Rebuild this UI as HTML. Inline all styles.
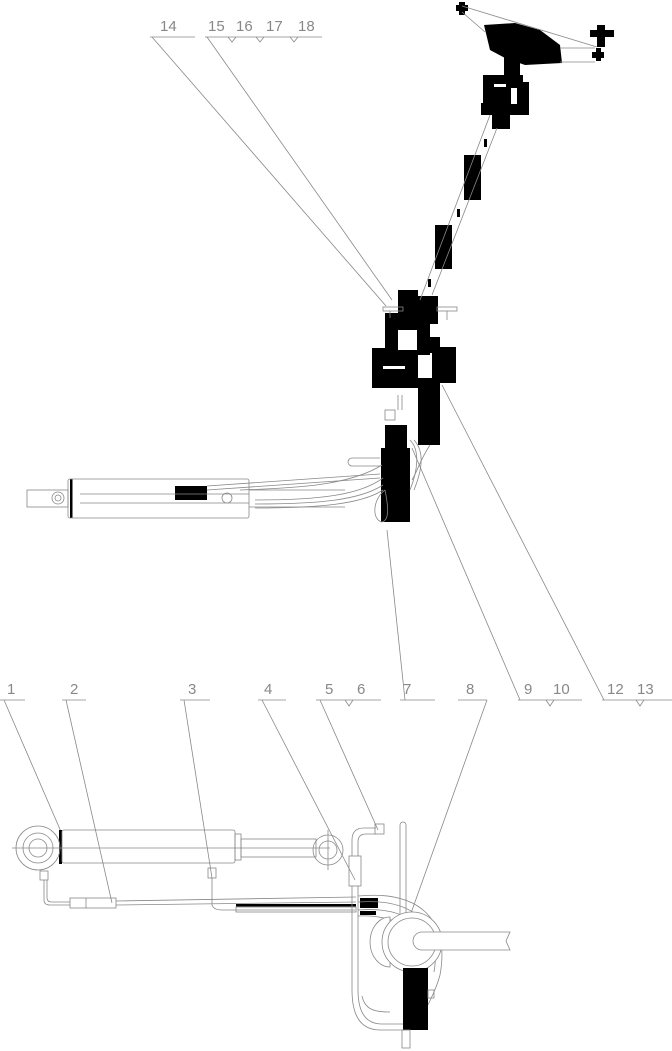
<!DOCTYPE html>
<html><head><meta charset="utf-8"><style>
html,body{margin:0;padding:0;background:#fff}
svg{display:block}
text{font-family:"Liberation Sans",sans-serif;font-size:15px;fill:#888}
</style></head><body>
<svg width="672" height="1051" viewBox="0 0 672 1051" xmlns="http://www.w3.org/2000/svg">
<g stroke="#888" stroke-width="0.8" fill="none">
<line x1="150" y1="37" x2="195" y2="37"/>
<line x1="205" y1="37" x2="322" y2="37"/>
<polyline points="228,37 232,42 236,37"/><polyline points="256,37 260,42 264,37"/><polyline points="290,37 294,42 298,37"/>
<line x1="152" y1="37" x2="386" y2="306"/>
<line x1="207" y1="37" x2="392" y2="300"/>
<line x1="0" y1="700" x2="25" y2="700"/>
<line x1="62" y1="700" x2="86" y2="700"/>
<line x1="180" y1="700" x2="210" y2="700"/>
<line x1="258" y1="700" x2="286" y2="700"/>
<line x1="316" y1="700" x2="381" y2="700"/><polyline points="345,700 349,706 353,700"/>
<line x1="400" y1="700" x2="435" y2="700"/>
<line x1="458" y1="700" x2="487" y2="700"/>
<line x1="518" y1="700" x2="582" y2="700"/><polyline points="546,700 550,706 554,700"/>
<line x1="602" y1="700" x2="672" y2="700"/><polyline points="636,700 640,706 644,700"/>
<line x1="4" y1="700" x2="62" y2="834"/>
<line x1="66" y1="700" x2="112" y2="903"/>
<line x1="184" y1="700" x2="212" y2="878"/>
<line x1="262" y1="700" x2="355" y2="880"/>
<line x1="320" y1="700" x2="378" y2="830"/>
<line x1="405" y1="700" x2="387" y2="530"/>
<line x1="487" y1="700" x2="405" y2="930"/>
<line x1="520" y1="700" x2="412" y2="448"/>
<line x1="604" y1="700" x2="442" y2="385"/>
</g>
<g>
<text x="160" y="31">14</text>
<text x="208" y="31">15</text><text x="236" y="31">16</text><text x="266" y="31">17</text><text x="298" y="31">18</text>
<text x="7" y="694">1</text><text x="70" y="694">2</text><text x="188" y="694">3</text><text x="264" y="694">4</text>
<text x="325" y="694">5</text><text x="357" y="694">6</text><text x="403" y="694">7</text><text x="466" y="694">8</text>
<text x="524" y="694">9</text><text x="553" y="694">10</text><text x="607" y="694">12</text><text x="637" y="694">13</text>
</g>

<g fill="#000">
<polygon points="484,25 515,23 540,30 560,45 562,63 525,65 505,58 490,50"/>
<rect x="504" y="55" width="16" height="28"/>
<rect x="483" y="75" width="40" height="30"/>
<rect x="515" y="82" width="14" height="33"/>
<rect x="481" y="103" width="34" height="12"/>
<rect x="492" y="112" width="18" height="17"/>
<rect x="456" y="5" width="12" height="6"/><rect x="459" y="2" width="6" height="13"/>
<rect x="590" y="30" width="24" height="7"/><rect x="597" y="25" width="8" height="22"/>
<rect x="592" y="52" width="12" height="6"/><rect x="596" y="48" width="5" height="13"/>
<rect x="464" y="155" width="17" height="45"/>
<rect x="435" y="225" width="17" height="44"/>
<rect x="484" y="139" width="3" height="8"/><rect x="457" y="209" width="3" height="8"/><rect x="428" y="279" width="3" height="8"/>
<rect x="398" y="290" width="20" height="30"/>
<rect x="418" y="296" width="20" height="28"/>
<rect x="385" y="313" width="45" height="42"/>
<rect x="430" y="337" width="10" height="16"/>
<rect x="432" y="347" width="24" height="36"/>
<rect x="372" y="348" width="46" height="40"/>
<rect x="418" y="378" width="22" height="67"/>
<rect x="385" y="425" width="22" height="26"/>
<rect x="381" y="448" width="29" height="74"/>
<rect x="175" y="486" width="32" height="14"/>
<rect x="70" y="479" width="2.5" height="39"/>
<rect x="59" y="830" width="3" height="34"/>
<rect x="360" y="898" width="18" height="10"/>
<rect x="360" y="911" width="16" height="4"/>
<rect x="403" y="968" width="25" height="62"/>
<rect x="236" y="904" width="120" height="2.5"/>
</g>
<g fill="#fff">
<rect x="398" y="330" width="19" height="20"/>
<rect x="383" y="366" width="22" height="3"/>
<rect x="494" y="84" width="12" height="3"/>
<rect x="511" y="88" width="6" height="16"/>
</g>
<g stroke="#888" stroke-width="0.8" fill="none">
<line x1="462" y1="6" x2="597" y2="47"/>
<line x1="462" y1="12" x2="485" y2="32"/>
<line x1="560" y1="48" x2="595" y2="48"/>
<line x1="560" y1="62" x2="595" y2="62"/>
<line x1="490" y1="115" x2="420" y2="300"/>
<line x1="497" y1="128" x2="432" y2="295"/>
<rect x="383" y="307" width="20" height="4"/><rect x="437" y="307" width="20" height="4"/>
<line x1="447" y1="311" x2="447" y2="320"/><line x1="390" y1="311" x2="390" y2="318"/>
<rect x="27" y="490" width="41" height="17"/>
<rect x="68" y="479" width="181" height="39" rx="2"/>
<circle cx="58" cy="498" r="6"/><circle cx="58" cy="498" r="3"/>
<line x1="80" y1="494" x2="249" y2="494"/><line x1="80" y1="503" x2="249" y2="503"/>
<line x1="249" y1="490" x2="345" y2="490"/><line x1="249" y1="507" x2="345" y2="507"/>
<circle cx="227" cy="498" r="5"/>
<path d="M207,490 L380,478"/><path d="M207,486 L380,474"/>
<path d="M240,490 C300,488 350,485 382,465"/>
<path d="M255,500 C320,500 360,495 383,478"/>
<path d="M255,504 C320,504 360,500 383,485"/>
<path d="M255,508 C320,508 362,504 383,490"/>
<path d="M352,458 L380,458 M352,466 L380,466 M352,458 A4,4 0 0 0 352,466"/>
<path d="M385,490 C372,500 372,520 382,522 C390,520 388,505 385,490"/>
<rect x="385" y="410" width="10" height="10"/><line x1="398" y1="395" x2="398" y2="410"/><line x1="402" y1="395" x2="402" y2="410"/>
<path d="M410,440 C420,450 418,470 410,490 M414,440 C425,452 422,470 414,490"/>
<path d="M430,445 C420,460 418,470 412,480"/>
<circle cx="38" cy="848" r="22"/><circle cx="38" cy="848" r="15"/><circle cx="38" cy="848" r="9"/>
<line x1="12" y1="848" x2="330" y2="848"/>
<rect x="62" y="830" width="173" height="33" rx="2"/>
<rect x="235" y="834" width="6" height="26"/>
<rect x="241" y="839" width="75" height="18"/>
<circle cx="328" cy="850" r="15"/><circle cx="328" cy="850" r="9"/>
<line x1="328" y1="830" x2="328" y2="870"/>
<rect x="40" y="871" width="8" height="9"/><rect x="208" y="868" width="8" height="10"/>
<path d="M44,880 L44,900 Q44,905 50,905 L70,905"/>
<path d="M47,880 L47,898 Q47,902 52,902 L70,902"/>
<rect x="70" y="898" width="46" height="10"/><line x1="86" y1="898" x2="86" y2="908"/>
<line x1="116" y1="901" x2="356" y2="897"/>
<line x1="116" y1="905" x2="356" y2="902"/>
<path d="M212,878 L212,905 Q214,910 222,910 L355,910"/>
<rect x="236" y="907" width="120" height="5"/>
<rect x="349" y="856" width="12" height="30"/>
<path d="M352,886 L352,990 Q352,1030 380,1030 L405,1030"/>
<path d="M358,886 L358,990 Q358,1024 382,1024 L405,1024"/>
<path d="M352,856 L352,840 Q352,828 364,828 L376,828"/>
<path d="M358,856 L358,842 Q358,834 366,834 L376,834"/>
<rect x="375" y="824" width="9" height="10"/>
<rect x="400" y="822" width="6" height="118" rx="3"/>
<path d="M358,896 C420,890 450,920 440,975 C436,990 430,1000 428,1005"/>
<path d="M358,902 C415,898 442,925 434,972"/>
<path d="M358,910 C410,906 434,930 428,968"/>
<path d="M358,916 C400,914 425,935 420,960"/>
<path d="M362,996 C365,1010 375,1012 390,1012"/>
<path d="M390,917 L390,967 A20,25 0 0 1 390,917 Z" fill="#fff"/>
<circle cx="412" cy="942" r="30" fill="#fff"/>
<circle cx="412" cy="942" r="24"/>
<path d="M422,932 L510,932 L506,941 L510,950 L422,950 A9,9 0 0 1 422,932" fill="#fff"/>
<rect x="403" y="968" width="25" height="62" fill="#000" stroke="none"/>
<rect x="428" y="990" width="6" height="8"/>
<rect x="402" y="1030" width="8" height="18"/>
</g>
</svg>
</body></html>
